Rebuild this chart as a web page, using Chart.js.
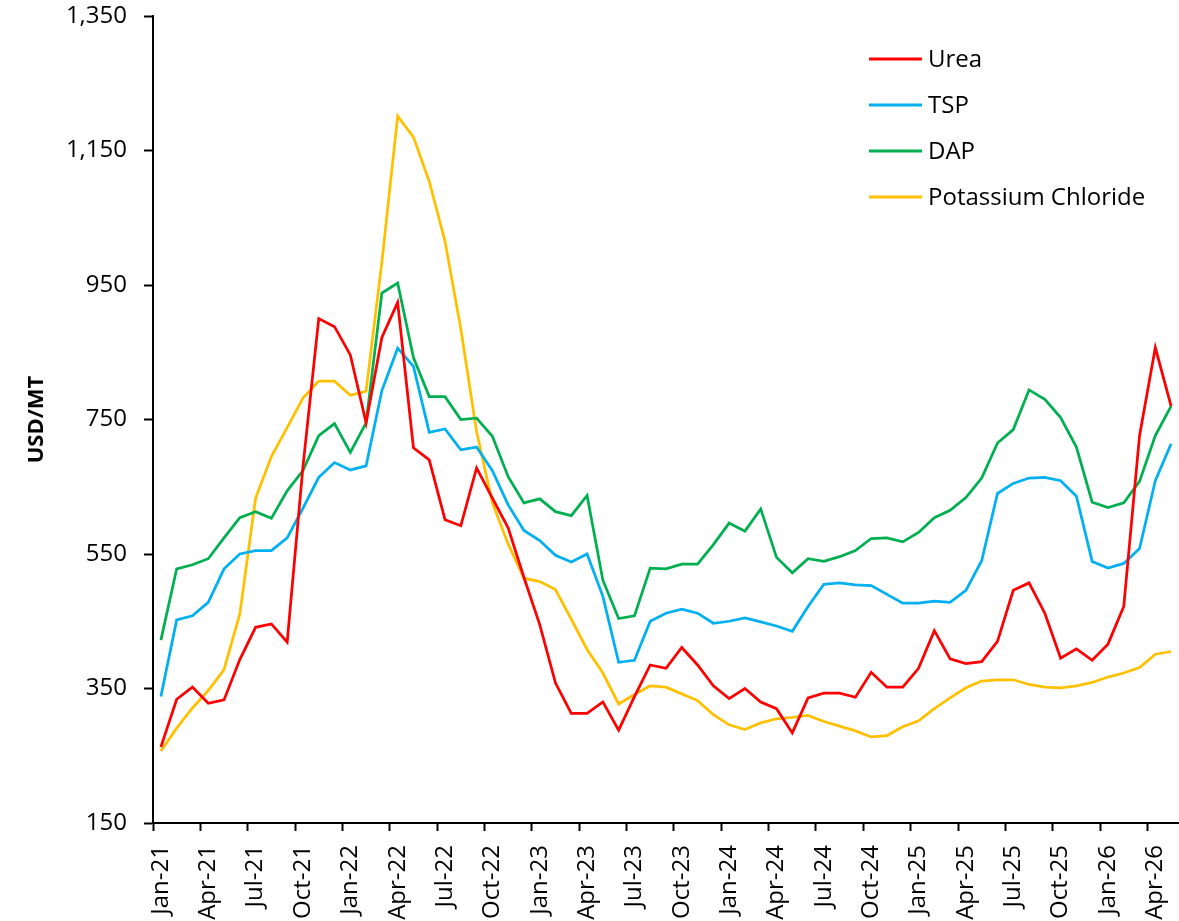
<!DOCTYPE html>
<html>
<head>
<meta charset="utf-8">
<title>Fertilizer prices</title>
<script src="https://cdn.jsdelivr.net/npm/chart.js@4.4.1/dist/chart.umd.min.js"></script>
<style>
  html, body { margin: 0; padding: 0; background: #fff; }
  #wrap { width: 1179px; height: 921px; }
</style>
</head>
<body>
<div id="wrap"><canvas id="priceChart" width="1179" height="921"></canvas></div>
<script>
// --- Data (USD/MT, monthly) ---
const months = [
  'Jan-21','Feb-21','Mar-21','Apr-21','May-21','Jun-21','Jul-21','Aug-21','Sep-21','Oct-21','Nov-21','Dec-21',
  'Jan-22','Feb-22','Mar-22','Apr-22','May-22','Jun-22','Jul-22','Aug-22','Sep-22','Oct-22','Nov-22','Dec-22',
  'Jan-23','Feb-23','Mar-23','Apr-23','May-23','Jun-23','Jul-23','Aug-23','Sep-23','Oct-23','Nov-23','Dec-23',
  'Jan-24','Feb-24','Mar-24','Apr-24','May-24','Jun-24','Jul-24','Aug-24','Sep-24','Oct-24','Nov-24','Dec-24',
  'Jan-25','Feb-25','Mar-25','Apr-25','May-25','Jun-25','Jul-25','Aug-25','Sep-25','Oct-25','Nov-25','Dec-25',
  'Jan-26','Feb-26','Mar-26','Apr-26','May-26'
]

const urea = [
  263, 334, 352, 328, 333, 393, 441, 446, 419, 680, 900, 888,
  846, 745, 872, 924, 708, 690, 601, 592, 678, 633, 589, 515,
  445, 358, 313, 313, 330, 288, 338, 385, 380, 411, 385, 354,
  335, 350, 330, 320, 284, 336, 343, 343, 337, 374, 352, 352,
  380, 436, 394, 387, 390, 420, 496, 507, 462, 395, 409, 392,
  416, 472, 726, 857, 770
]

const tsp = [
  338, 452, 458, 478, 528, 550, 555, 555, 574, 618, 664, 686,
  675, 681, 793, 856, 829, 731, 736, 705, 709, 674, 623, 585,
  570, 548, 538, 550, 487, 389, 392, 450, 462, 468, 462, 447,
  450, 455, 449, 443, 435, 472, 505, 507, 504, 503, 490, 477,
  477, 480, 478, 496, 540, 640, 655, 663, 664, 659, 636, 539,
  529, 536, 558, 659, 714
]

const dap = [
  422, 528, 534, 543, 574, 604, 613, 603, 644, 674, 726, 744,
  701, 745, 938, 953, 842, 784, 784, 750, 752, 725, 665, 626,
  632, 613, 607, 637, 511, 454, 458, 529, 528, 535, 535, 564,
  596, 584, 617, 545, 522, 543, 539, 546, 555, 573, 574, 568,
  582, 604, 615, 634, 663, 715, 735, 794, 780, 753, 709, 627,
  619, 626, 658, 726, 770
]

const potassium = [
  257, 291, 321, 347, 378, 461, 633, 695, 738, 782, 807, 807,
  786, 792, 984, 1201, 1170, 1104, 1015, 885, 732, 626, 565, 514,
  509, 497, 453, 408, 373, 327, 341, 354, 352, 342, 332, 311,
  296, 289, 299, 305, 307, 310, 301, 294, 287, 278, 280, 293,
  302, 320, 336, 351, 361, 363, 363, 356, 352, 351, 354, 359,
  367, 373, 381, 401, 405
]

const yTicks = [150, 350, 550, 750, 950, 1150, 1350]

const FONT = "'Open Sans', 'Noto Sans', sans-serif"

// legend drawn inside the plot, top right, one row per series
const insideLegend = {
  id: 'insideLegend',
  afterDraw(chart, args, opts) {
    const ctx = chart.ctx
    ctx.save()
    ctx.font = `${opts.fontSize}px ${FONT}`
    ctx.textBaseline = 'middle'
    ctx.textAlign = 'left'
    chart.data.datasets.forEach((ds, i) => {
      const y = opts.top + i * opts.rowGap
      ctx.strokeStyle = ds.borderColor
      ctx.lineWidth = 3
      ctx.beginPath()
      ctx.moveTo(opts.left, y)
      ctx.lineTo(opts.left + opts.lineLen, y)
      ctx.stroke()
      ctx.fillStyle = '#000'
      ctx.fillText(ds.label, opts.left + opts.lineLen + 6, y + 1)
    })
    ctx.restore()
  }
}

function series(label, data, color) {
  return {
    label,
    data,
    borderColor: color,
    backgroundColor: color,
    borderWidth: 2.75,
    pointRadius: 0,
    pointHoverRadius: 0,
    tension: 0,
    fill: false
  }
}

const ctx = document.getElementById('priceChart').getContext('2d')

new Chart(ctx, {
  type: 'line',
  data: {
    labels: months,
    datasets: [
      series('Urea', urea, '#FF0000'),
      series('TSP', tsp, '#00B0F0'),
      series('DAP', dap, '#00B050'),
      series('Potassium Chloride', potassium, '#FFC000')
    ]
  },
  options: {
    responsive: false,
    animation: false,
    events: [],
    layout: { padding: { top: 16, right: 0, left: 0, bottom: 0 } },
    plugins: {
      legend: { display: false },
      tooltip: { enabled: false },
      insideLegend: { left: 869, top: 59, rowGap: 46, lineLen: 53, fontSize: 24 }
    },
    scales: {
      x: {
        type: 'category',
        offset: true,
        afterFit: (s) => {
          s.height = 98
          s.paddingLeft = 0
          s.paddingRight = 0
        },
        border: { display: true, color: '#000', width: 2 },
        grid: {
          offset: true,
          drawOnChartArea: false,
          drawTicks: true,
          tickLength: 8,
          tickWidth: 2,
          tickColor: (c) => (c.index % 3 === 0 ? '#000' : 'rgba(0,0,0,0)')
        },
        ticks: {
          autoSkip: false,
          maxRotation: 90,
          minRotation: 90,
          padding: 14,
          color: '#000',
          font: { family: FONT, size: 24 },
          callback: function (val, i) { return i % 3 === 0 ? this.getLabelForValue(val) : '' }
        }
      },
      y: {
        min: 150,
        max: 1350,
        afterFit: (s) => {
          s.width = 153
          s.paddingTop = 0
          s.paddingBottom = 0
        },
        afterBuildTicks: (s) => { s.ticks = yTicks.map(v => ({ value: v })) },
        border: { display: true, color: '#000', width: 2 },
        grid: {
          drawOnChartArea: false,
          drawTicks: true,
          tickLength: 9,
          tickWidth: 2,
          tickColor: '#000'
        },
        ticks: {
          padding: 17,
          color: '#000',
          font: { family: FONT, size: 24 },
          callback: (v) => v.toLocaleString('en-US')
        },
        title: {
          display: true,
          text: 'USD/MT',
          color: '#000',
          font: { family: FONT, size: 22, weight: 'bold' },
          padding: { top: 24, bottom: 0 }
        }
      }
    }
  },
  plugins: [insideLegend]
})
</script>
</body>
</html>
